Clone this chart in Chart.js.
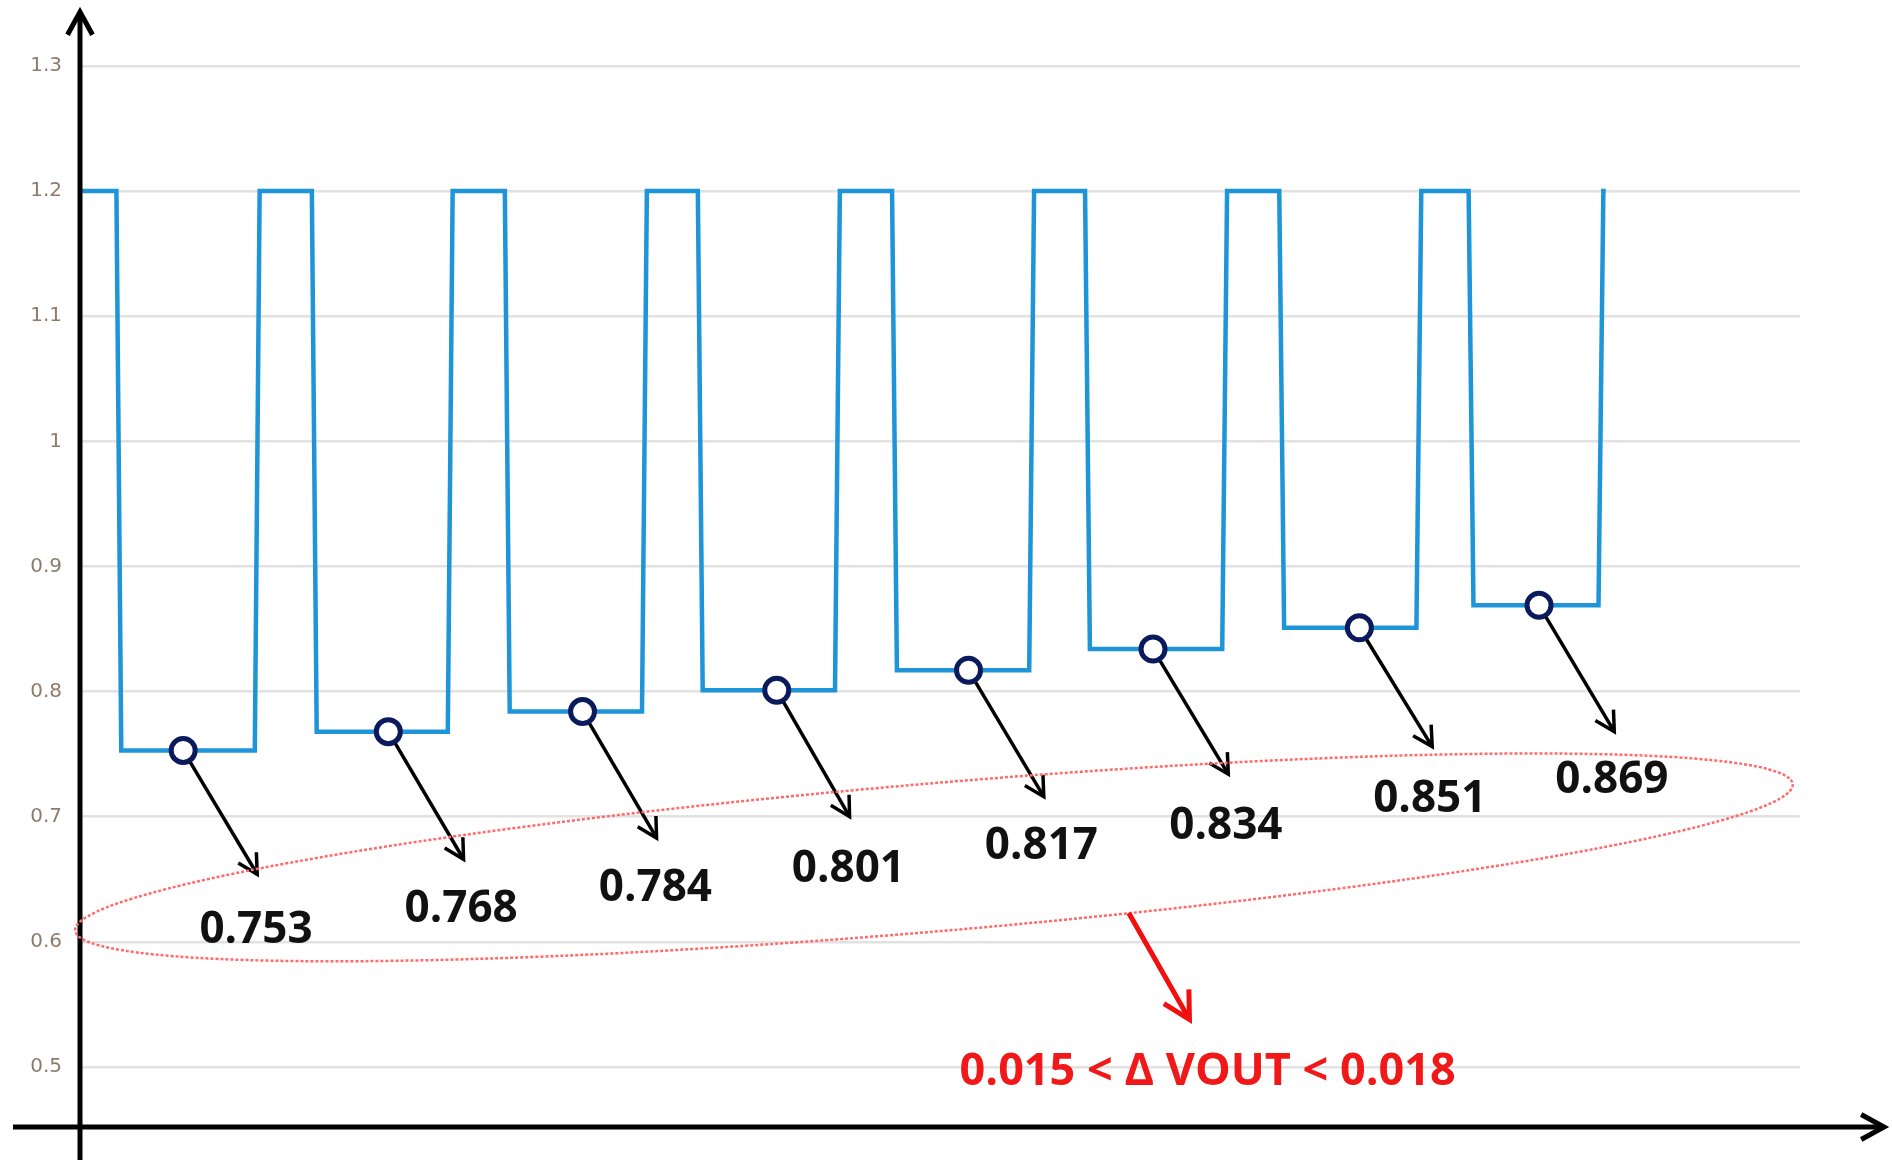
<!DOCTYPE html>
<html><head><meta charset="utf-8">
<script src="https://cdn.jsdelivr.net/npm/chart.js@4/dist/chart.umd.min.js"></script>
<style>html,body{margin:0;padding:0;background:#fff}#w{width:1892px;height:1174px}</style>
</head><body><div id="w"><canvas id="c"></canvas></div>
<script>
const fallX=[99,260,419,578,738,897,1057,1213];
const riseX=[211,370,530,689,849,1008,1168,1318];
const lowV=[0.753,0.768,0.784,0.801,0.817,0.834,0.851,0.869];
const highV=1.2;
const markX=[151,320,480,640,798,950,1120,1268];
const arrowEndX=[212,382,541,700,860,1012,1180,1330];
const arrowEndY=[0.654,0.666,0.683,0.700,0.716,0.734,0.756,0.768];
const labelX=[211,380,540,699,858,1010,1178,1328];
const labelY=[0.609,0.626,0.643,0.658,0.676,0.692,0.714,0.729];
const labels=['0.753','0.768','0.784','0.801','0.817','0.834','0.851','0.869'];
const yTicks=[0.5,0.6,0.7,0.8,0.9,1,1.1,1.2,1.3];
const deltaText='0.015 < Δ VOUT < 0.018';

const wave=[{x:67,y:highV}];
for(let i=0;i<fallX.length;i++){
  wave.push({x:fallX[i]-3,y:highV},{x:fallX[i]+1,y:lowV[i]},{x:riseX[i]-1,y:lowV[i]},{x:riseX[i]+3,y:highV});
}
wave.push({x:1323,y:highV});
const marks=markX.map((x,i)=>({x,y:lowV[i]}));

function arrowHead(ctx,x1,y1,x2,y2,len){
  const a=Math.atan2(y2-y1,x2-x1);
  ctx.beginPath();
  ctx.moveTo(x2-len*Math.cos(a-0.5),y2-len*Math.sin(a-0.5));
  ctx.lineTo(x2,y2);
  ctx.lineTo(x2-len*Math.cos(a+0.5),y2-len*Math.sin(a+0.5));
  ctx.stroke();
}
const deco={id:'deco',
 afterDatasetsDraw(ch){
  const ctx=ch.ctx,xs=ch.scales.x,ys=ch.scales.y,ca=ch.chartArea;
  ctx.save();
  ctx.strokeStyle='#000';ctx.lineWidth=5;ctx.lineCap='butt';ctx.lineJoin='miter';
  ctx.beginPath();ctx.moveTo(ca.left,1160);ctx.lineTo(ca.left,12);ctx.stroke();
  arrowHead(ctx,ca.left,100,ca.left,12,26);
  ctx.beginPath();ctx.moveTo(13,ca.bottom);ctx.lineTo(1884,ca.bottom);ctx.stroke();
  arrowHead(ctx,1800,ca.bottom,1884,ca.bottom,26);
  ctx.lineWidth=3.5;
  ctx.font='bold 44px "Open Sans", Lato, sans-serif';ctx.fillStyle='#111';ctx.textAlign='center';ctx.textBaseline='middle';
  for(let i=0;i<markX.length;i++){
    const x0=xs.getPixelForValue(markX[i]),y0=ys.getPixelForValue(lowV[i]);
    const x1=xs.getPixelForValue(arrowEndX[i]),y1=ys.getPixelForValue(arrowEndY[i]);
    const a=Math.atan2(y1-y0,x1-x0);
    ctx.beginPath();ctx.moveTo(x0+14*Math.cos(a),y0+14*Math.sin(a));ctx.lineTo(x1,y1);ctx.stroke();
    arrowHead(ctx,x0,y0,x1,y1,22);
    ctx.fillText(labels[i],xs.getPixelForValue(labelX[i]),ys.getPixelForValue(labelY[i]));
  }
  const ex1=xs.getPixelForValue(62),ey1=ys.getPixelForValue(0.609);
  const ex2=xs.getPixelForValue(1477),ey2=ys.getPixelForValue(0.726);
  const cx=(ex1+ex2)/2,cy=(ey1+ey2)/2,rx=Math.hypot(ex2-ex1,ey2-ey1)/2,ang=Math.atan2(ey2-ey1,ex2-ex1);
  ctx.strokeStyle='#ff6b6b';ctx.lineWidth=2.5;ctx.setLineDash([3,2]);
  ctx.beginPath();ctx.ellipse(cx,cy,rx,74,ang,0,Math.PI*2);ctx.stroke();ctx.setLineDash([]);
  const rx1=xs.getPixelForValue(930),ry1=ys.getPixelForValue(0.623),rx2=xs.getPixelForValue(980),ry2=ys.getPixelForValue(0.538);
  ctx.strokeStyle='#f01010';ctx.lineWidth=5;
  ctx.beginPath();ctx.moveTo(rx1,ry1);ctx.lineTo(rx2,ry2);ctx.stroke();
  arrowHead(ctx,rx1,ry1,rx2,ry2,30);
  ctx.fillStyle='#f01818';ctx.font='bold 45px "Open Sans", Lato, sans-serif';
  ctx.fillText(deltaText,xs.getPixelForValue(995),ys.getPixelForValue(0.496));
  ctx.restore();
 }};

new Chart(document.getElementById('c'),{
 type:'line',
 data:{datasets:[
  {data:wave,borderColor:'#1e95d9',borderWidth:4.5,pointRadius:0,fill:false,tension:0,order:2},
  {data:marks,showLine:false,pointRadius:12,pointBackgroundColor:'#fff',pointBorderColor:'#0b1a5c',pointBorderWidth:5,order:1}
 ]},
 options:{responsive:true,maintainAspectRatio:false,animation:false,
  layout:{padding:{top:66,right:92,bottom:47,left:0}},
  plugins:{legend:{display:false},tooltip:{enabled:false}},
  scales:{
   x:{type:'linear',min:66,max:1483,display:false},
   y:{min:0.452,max:1.3,
     afterBuildTicks:s=>{s.ticks=yTicks.map(v=>({value:v}))},
     afterFit:s=>{s.width=80},
     border:{display:false},
     grid:{color:'#e2e2e2',lineWidth:2.5,drawTicks:false},
     ticks:{padding:18,color:'#8c7c6c',font:{family:'"DejaVu Sans", sans-serif',size:20},callback:v=>String(v)}}
  }},
 plugins:[deco]
});
</script></body></html>
